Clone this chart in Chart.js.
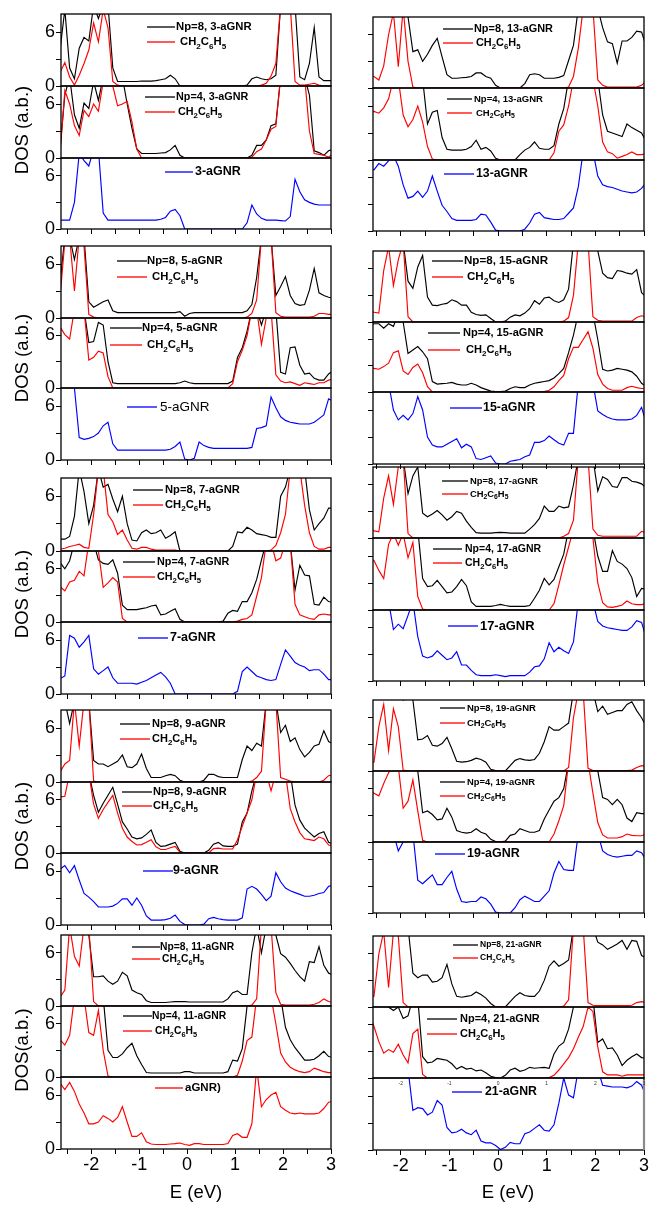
<!DOCTYPE html>
<html><head><meta charset="utf-8">
<script src="https://cdn.jsdelivr.net/npm/chart.js@4.4.1/dist/chart.umd.min.js"></script>
<style>
html,body{margin:0;padding:0;background:#fff;}
body{width:650px;height:1205px;position:relative;overflow:hidden;font-family:"Liberation Sans",Arial,sans-serif;}
canvas{position:absolute;}
.ylab{position:absolute;font-size:18.5px;white-space:nowrap;transform:translate(-50%,-50%) rotate(-90deg);color:#000;}
.xlab{position:absolute;font-size:18.5px;white-space:nowrap;transform:translate(-50%,-50%);color:#000;}
</style></head><body>
<script>
// ---------- DATA ----------
const energy=[-2.65,-2.55,-2.45,-2.35,-2.25,-2.15,-2.05,-1.95,-1.85,-1.75,-1.65,-1.55,-1.45,-1.35,-1.25,-1.15,-1.05,-0.95,-0.85,-0.75,-0.65,-0.55,-0.45,-0.35,-0.25,-0.15,-0.05,0.05,0.15,0.25,0.35,0.45,0.55,0.65,0.75,0.85,0.95,1.05,1.15,1.25,1.35,1.45,1.55,1.65,1.75,1.85,1.95,2.05,2.15,2.25,2.35,2.45,2.55,2.65,2.75,2.85,2.95,3.05];
const xTickValues=[-2.5,-2,-1.5,-1,-0.5,0,0.5,1,1.5,2,2.5,3];
const xTickLabels=['-2','-1','0','1','2','3'];
const yTickValues=[0,3,6];
const yTickLabels=['0','6'];

// left column
const np8_3=[4,8.5,2,0.8,4.2,5.4,5,9,7.5,9, 9,2,0.5,0.5,0.5,0.5,0.5,0.55,0.55,0.55, 0.6,0.7,0.8,1.2,0.8,0,0,0,0,0, 0,0,0,0,0,0,0,0,0,0.1, 0.8,1,0.8,0.7,0.8,1.2,9,9,9,9, 1,0.7,2.5,6.5,1,0.6,0.6,0.6];
const ch_3a=[1.5,2.6,1,0.1,1.2,2.5,4,7,4.9,8.5, 6.5,0.5,0.1,0,0,0,0,0,0,0, 0,0,0,0,0,0,0,0,0,0, 0,0,0,0,0,0,0,0,0,0, 0,0,0.1,0.3,1.1,2.5,9,9,9,0.5, 0.1,0.1,0.2,0.3,0.1,0,0,0];
const np4_3=[1,7,9,4.8,3.3,6.1,5.5,8.5,6.4,9, 9,9,9,9,6,3.3,1,0.5,0.5,0.5, 0.5,0.55,0.6,0.9,1.4,0.3,0,0,0,0, 0,0,0,0,0,0,0,0,0,0, 0.3,1.4,1.4,2,3.6,3.8,9,9,9,9, 9,9,7,0.8,0.6,0.3,0.8,1];
const ch_3b=[0.5,7.5,6,3.6,2.5,5.3,4.6,6,5.2,8.5, 9,8,5.8,6,6.3,4,1,0,0,0, 0,0,0,0,0,0,0,0,0,0, 0,0,0,0,0,0,0,0,0,0, 0.1,0.7,1,2,3.2,3.5,9,9,9,9, 9,9,3,0.5,0.4,0.3,0.1,0.5];
const g3=[1,1,1,3,8.5,7.7,7.1,9,9,1.8, 1,1,1,1,1,1,1,1,1,1, 1,1.1,1.3,2,2.2,1.5,0,0,0,0, 0,0,0,0,0,0,0,0,0,0.7, 2.7,1.7,1.2,1,1,1,0.95,0.9,1.4,5.6, 4.2,3.3,3,2.8,2.7,2.7,2.7,2.7];
const np8_5=[4,9,9,6.5,9,9,1.8,1.2,1.5,1.8, 2,0.8,0.6,0.6,0.6,0.6,0.6,0.6,0.6,0.6, 0.6,0.6,0.6,0.6,0.6,0.7,0.2,0.5,0.6,0.6, 0.6,0.6,0.6,0.6,0.6,0.6,0.6,0.6,0.6,0.8, 1.5,4.5,9,9,9,2.5,3.5,4.6,2.5,1.6, 1.4,1.5,3.1,5.5,2.8,2.5,2.3,2.2];
const ch_5a=[2.3,8.5,9,3,9,8,0.4,0.1,0,0, 0,0,0,0,0,0,0,0,0,0, 0,0,0,0,0,0,0,0,0,0, 0,0,0,0,0,0,0,0,0,0.1, 0.5,2,9,9,9,0.6,0.2,0.1,0.1,0.1, 0.1,0.1,0.1,0.2,0.5,0.5,0.4,0.4];
const np4_5=[9,9,9,9,9,9,5.2,5.3,7.5,7.2, 3,0.6,0.5,0.5,0.5,0.5,0.5,0.5,0.5,0.5, 0.5,0.5,0.5,0.5,0.5,0.6,0.8,0.6,0.5,0.5, 0.5,0.5,0.5,0.5,0.5,0.5,0.8,3.5,4.6,6.5, 9,9,7.2,9,9,9,1.8,1.6,4.6,4.7, 2.6,1.6,1.7,1.1,0.9,0.9,1.6,2];
const ch_5b=[7,6.1,5.6,9,9,9,3.2,3.5,4.2,4, 1.3,0,0,0,0,0,0,0,0,0, 0,0,0,0,0,0,0,0,0,0, 0,0,0,0,0,0,0.5,3,4.3,6, 9,9,5,8,9,1.5,0.8,0.6,0.7,0.5, 0.3,0.6,0.5,0.4,0.6,0.6,0.9,1];
const g5=[9,9,9,8,2.5,2.3,2.4,2.6,3,3.8, 4.2,1.8,1.1,1.1,1.1,1.1,1.1,1.1,1.1,1.1, 1.1,1.1,1.1,1.2,1.5,2,0.1,0,0.2,2, 1.6,1.4,1.3,1.3,1.3,1.3,1.3,1.3,1.3,1.3, 1.4,3.5,3.6,3.8,7,5.8,4.8,4.4,4.2,4.1, 4,4,4,4.2,4.6,5,6.8,6.5];
const np8_7=[1.3,1.3,1.6,3.8,9,6.5,3,5,9,7, 7.3,5.7,4.3,6,3,1.2,1.1,2,2.3,1.9, 2,2.3,1.4,1.7,2.1,0,0,0,0,0, 0,0,0,0,0,0,0.5,2.1,2,2.6, 2.3,1.9,1.8,1.7,1.5,1.5,6,7,9,9, 9,9,4.5,2.3,3,3.6,4.7,4.7];
const ch_7a=[0.2,0.3,0.5,0.6,0.75,0.4,0.3,4,9,9, 4,3.2,1.8,2.3,1.2,0.3,0.2,0.4,0.4,0.2, 0.1,0.1,0.1,0.1,0.1,0,0,0,0,0, 0,0,0,0,0,0,0,0,0,0, 0,0,0,0,0.1,0.6,2,4,9,9, 9,5,2,0.5,0.2,0.2,0.4,0.4];
const np4_7=[6.7,6,6.9,9,9,9,9,9,7,6.6, 6.5,7,5.5,1.9,1.4,1.4,1.4,1.5,1.6,1.8, 1.9,0.8,0.9,1.2,1.5,0.3,0,0,0,0, 0,0,0,0,0.1,1,1.3,1.2,2.3,2.3, 3.3,4.8,7,9,9,9,9,9,9,3.6, 6.4,5.3,5.2,2,1.9,2.8,2.3,2.2];
const ch_7b=[4,3.5,4.5,4.7,5.7,5.2,9,9,8,3.9, 4.4,5,4.5,0.4,0,0,0,0,0,0, 0,0,0,0,0,0,0,0,0,0, 0,0,0,0,0,0,0,0.1,0.3,0.4, 0.8,2.9,5,9,9,6.9,7.2,9,9,2, 0.8,0.6,0.4,0.3,0.8,0.9,0.8,0.8];
const g7=[1.7,2,6.5,6.2,5.2,5.8,6.5,2.8,2.2,2.6, 3,1.8,1.2,1.2,1.2,1.2,1.1,1.3,1.5,1.8, 2.1,2.4,1.9,1.2,0,0,0,0,0,0, 0,0,0,0,0,0,0,0.3,2.5,3, 2.5,2,1.8,1.6,1.5,1.6,3.3,4.9,4.2,3.5, 3.2,3,2.6,2.7,2.7,2.2,1.6,1.6];
const np8_9=[9,9,6.5,9,9,9,9,2.4,2,2, 1.7,2,2.3,3,1.7,1.6,2,3.1,1.5,0.5, 0.5,0.5,0.7,0.85,0.7,0.2,0,0,0,0, 0.2,0.85,0.85,0.6,0.5,0.5,0.5,0.5,2.5,4, 3.5,4.3,4,9,9,9,5.5,6.3,4.5,4.9, 3.6,2.8,3.3,4,4.2,5.7,4.5,4.2];
const ch_9a=[1.1,2,2.4,9,4,9,9,0.1,0,0, 0,0,0,0,0,0,0,0,0,0, 0,0,0,0,0,0,0,0,0,0, 0,0,0,0,0,0,0,0,0,0, 0.1,0.5,1.2,9,9,9,0.5,0.3,0.1,0, 0,0,0,0,0,0.2,0.7,0.8];
const np8_9b=[9,9,9,9,9,9,9,6.5,4.6,5.6, 6.5,7.4,5.5,3.5,2.7,1.8,1.6,1.7,2.1,2.6, 1.2,0.75,0.8,1,1.2,0.2,0,0,0,0, 0,0.3,1,1.2,0.8,0.75,0.75,1,3.5,4.5, 7,9,9,9,9,9,9,9,9,5.4, 3.7,2.8,2.3,1.8,2.2,2.4,1.2,1];
const ch_9b=[6.3,6.4,9,9,9,9,9,5.5,3.9,4.9, 5.7,6.5,4.5,2.8,1.8,1.3,0.9,0.95,1.2,1.5, 0.7,0.4,0.4,0.6,0.75,0.1,0,0,0,0, 0,0,0.5,0.55,0.45,0.45,0.45,1.5,3,4.5, 6,9,9,9,7,9,9,9,5,3.5, 2.3,1.6,1.5,1.4,1.8,1.6,0.9,0.8];
const g9=[6.2,6.6,5.8,6.6,5,3.5,3.1,2.6,2,2, 2,2.1,2.4,2.9,2.9,2.2,3,2.2,1,0.55, 0.55,0.55,0.6,0.75,1.1,0.4,0.05,0,0,0, 0.1,0.7,0.85,0.7,0.6,0.55,0.55,0.55,0.8,4, 4.3,4,3.4,2.7,3.2,5.8,4.8,4.1,3.8,3.6, 3.4,3.2,3.2,3.3,3.5,3.6,4.3,4.4];
const np8_11=[9,9,9,9,9,9,8,3.3,3.3,3.4, 2.8,2.45,2.8,3.8,3.4,1.8,1.5,1.3,0.6,0.4, 0.4,0.4,0.4,0.45,0.5,0.5,0.5,0.45,0.45,0.45, 0.45,0.45,0.45,0.45,0.45,0.8,1.5,1.7,1.3,1.3, 6,9,6,9,9,8,5.9,5.5,4.8,4, 3.3,2.8,5,4.9,6.7,4.6,3.7,3.5];
const ch_11a=[1,1.8,9,5.6,4.5,9,9,0.5,0,0, 0,0,0,0,0,0,0,0,0,0, 0,0,0,0,0,0,0,0,0,0, 0,0,0,0,0,0,0,0,0,0, 0.1,0.8,9,9,9,1.5,0.2,0.1,0.1,0.1, 0.1,0.1,0.1,0.2,0.4,0.8,0.5,0.4];
const np4_11=[9,9,9,9,9,9,9,9,9,9, 3,2.2,2.2,2.6,3.3,3.8,2.4,1.4,0.5,0.45, 0.45,0.45,0.45,0.45,0.45,0.45,0.6,0.6,0.45,0.45, 0.45,0.45,0.45,0.45,0.45,0.6,1.9,1.8,3.2,8, 9,9,9,9,9,9,9,5.6,4.2,3.3, 2.6,1.9,1.9,2,2.4,2.9,2.3,2.2];
const ch_11b=[4.2,3.6,4.7,9,9,9,5,4.7,7.5,3, 0.1,0,0,0,0,0,0,0,0,0, 0,0,0,0,0,0,0,0,0,0, 0,0,0,0,0,0,0,0.2,1.8,4.1, 4.5,9,9,9,9,6,2.7,1.7,1.1,0.8, 0.6,0.5,0.6,1,0.8,0.6,0.5,0.5];
const agnr=[7.3,6.6,7.4,6.4,5,4,2.8,2.8,3,3.7, 3.4,3,3.5,4.7,3,1.4,1.4,1.8,0.8,0.55, 0.5,0.5,0.5,0.55,0.6,0.67,0.5,0.4,0.6,0.6, 0.5,0.5,0.5,0.5,0.5,0.6,1.5,1.7,1.3,1.3, 2.8,9,4.7,5.5,6,6.3,4.7,4.3,4,3.9, 4,3.9,3.9,3.9,4,4.5,5.2,5.3];
// right column
const np8_13=[9,9,9,9,9,9,9,9,8,4.1, 4.3,3,3.8,4.8,5.6,3.5,1.5,1.1,1.1,1.15, 1.2,1.3,1.7,1.7,1.3,1.1,0.3,0,0,0, 0,0,0.5,1.5,1.6,1.5,1.1,1.1,1.1,1.2, 1.4,3.1,4.8,9,9,9,9,9,6.8,5.2, 5,2.8,5.3,5.3,5.7,6.4,6.3,4.6];
const ch_13a=[1.3,1.3,0.9,2.5,6,8.5,2.4,9,3,0.1, 0,0,0,0,0,0,0,0,0,0, 0,0,0,0,0,0,0,0,0,0, 0,0,0,0,0,0,0,0,0,0, 0,0.1,1.3,4.5,9,9,9,0.9,0.3,0.1, 0.1,0.1,0.1,0.1,0.1,0.1,0.3,0.8];
const np4_13=[9,9,9,9,9,9,9,9,9,9, 9,9,4,5.3,5.5,2.5,1.2,1.1,1.1,1.1, 1.2,1.5,2.2,1.2,1.4,1,0.2,0,0,0, 0,0.6,1.1,1.4,2,1.3,1.2,1.2,1.6,4, 5.7,9,9,9,9,9,9,9,5,3.2, 3,2.8,2.6,4,3.6,3.3,3,2];
const ch_13b=[5.3,5.4,5.2,5.8,6.8,9,9,5,3.7,4.5, 6,4.2,1.5,0.1,0,0,0,0,0,0, 0,0,0,0,0,0,0,0,0,0, 0,0,0,0,0,0,0,0,0.8,3.2, 3.9,6,9,9,9,9,9,6,2,0.9, 0.7,0.2,0.4,0.6,0.9,0.6,0.6,0.7];
const g13=[7,6.9,7.6,7.3,7.9,8.5,7.3,5.2,3.7,3.9, 4.5,3.8,4.5,6.2,4.5,2.9,2.2,1.4,1.2,1.2, 1.2,1.2,1.3,1.9,1.8,1,0.1,0,0,0, 0,0,0.2,0.9,1.9,2.1,1.5,1.4,1.3,1.3, 1.4,2,2.6,5,9,9,9,6.2,5.2,5, 4.9,4.7,4.5,4.4,4.3,4.4,4.8,5.5];
const np8_15=[9,9,9,9,9,9,9,9,4.6,3.8, 6.2,7.5,2.8,1.9,1.85,2,2.1,2.5,2.3,1.9, 1.9,1.1,0.85,0.75,0.8,0.4,0,0,0.1,0.55, 0.8,0.7,1,1.5,2.4,2,2.7,2.8,2.4,2.2, 2.5,3.7,9,9,9,9,9,8,5.5,5, 4.9,5.8,5.7,5.5,5.4,5.9,3.3,2.8];
const ch_15a=[1.2,1.1,1,5.8,8.5,4.1,7,9,0.6,0, 0,0,0,0,0,0,0,0,0,0, 0,0,0,0,0,0,0,0,0,0, 0,0,0,0,0,0,0,0,0,0, 0.1,0.5,3,9,9,9,0.6,0.2,0.1,0.1, 0.1,0.1,0.1,0.1,0.1,0.5,0.7,0.6];
const np4_15=[7.5,7.8,7.8,7.3,7.8,7.5,9,8,4.4,4.8, 5.2,4.6,3.8,1.2,0.9,0.95,1,1.1,0.9,0.8, 0.8,1,0.8,0.5,0.3,0.1,0.05,0.05,0.1,0.4, 0.6,0.5,0.5,0.8,1,1.1,1.2,1.3,1.6,2.1, 2.7,4.5,6.5,9,9,9,9,6,2.6,2.4, 2.5,2.7,2.6,2.5,2.3,1.8,1,0.6];
const ch_15b=[2.9,2.7,2.6,2.9,3.3,4.5,4.7,2.4,2,2.8, 3.2,2.2,0.6,0,0,0,0,0,0,0, 0,0,0,0,0,0,0,0,0,0, 0,0,0,0,0,0,0.05,0.2,0.6,1.3, 1.9,3.8,5.1,5.1,6,6.9,5,2,0.9,0.4, 0.2,0.2,0.2,0.5,0.65,0.5,0.4,0.4];
const g15=[9,9,9,9,9,6,4.9,5.4,4.9,5.6, 7.5,6,3,2.1,1.9,1.9,2.2,2.5,2.8,1.8, 2.2,1.9,0.6,0.5,0.7,0.9,0.1,0,0,0.3, 0.4,0.5,0.8,1,2.4,2.4,2.6,3.1,2.7,2.3, 2.1,3.4,3.4,9,9,9,9,5.9,5.5,5.2, 5,4.9,4.9,4.9,5,5.4,6.3,4.5];
const np8_17=[9,9,9,9,9,9,9,9,5,7, 8,2.8,2.4,2.7,3.1,2.6,2,2.4,3,2.8, 1.9,1.2,0.6,0.55,0.55,0.55,0.6,0.63,0.6,0.55, 0.55,0.55,0.55,1,1.5,2.2,3.6,3,3,3.6, 3.4,3.5,6,9,9,9,9,5.3,6.9,6.6, 5.8,5.7,6.8,6.8,6.4,6.3,6.1,5.6];
const ch_17a=[0.9,0.8,0.7,4.5,7,3.8,8,9,0.5,0, 0,0,0,0,0,0,0,0,0,0, 0,0,0,0,0,0,0,0,0,0, 0,0,0,0,0,0,0,0,0,0, 0.2,0.5,2,9,9,9,1,0.3,0.2,0.2, 0.2,0.2,0.2,0.2,0.2,0.2,0.75,0.6];
const np4_17=[9,9,9,9,9,9,9,9,9,9, 9,3.5,2.6,2.7,3.3,2.6,1.9,2,2.6,3.4, 2.7,0.9,0.4,0.4,0.4,0.4,0.5,0.63,0.5,0.4, 0.4,0.4,0.4,0.5,1.3,2.2,3.5,2.8,3.4,4.8, 6.2,9,9,9,9,9,9,6,4.3,4.3, 6.6,5.4,5.1,4.6,3.6,1.5,2.4,2.3];
const ch_17b=[5.7,5.5,4.4,3.5,7.3,8.5,7.2,8.5,5.8,7.5, 1.5,0.1,0,0,0,0,0,0,0,0, 0,0,0,0,0,0,0,0,0,0, 0,0,0,0,0,0,0,0,0.7,2.8, 5,7,9,9,9,9,8,3,0.8,0.35, 0.3,0.4,0.55,1,0.7,0.6,0.6,0.7];
const g17=[9,9,9,9,9,5.8,6.4,5.9,7.4,9, 5,2.8,2.6,2.8,3.4,2.9,2.4,2.6,3.3,1.8, 1.8,1.2,0.7,0.6,0.6,0.6,0.7,0.6,0.5,0.6, 0.6,0.6,0.6,1,1.6,1.7,2.5,4.3,3.3,3.8, 3.4,3.1,4.4,9,9,9,9,6.7,6.2,6, 5.9,5.8,5.7,5.7,6.1,6.8,6.6,4.8];
const np8_19=[9,9,9,9,9,9,9,8,9,8, 3.5,3.6,4,2.9,2.8,3.1,3.8,2.5,1.1,1, 1.05,1.2,1.45,1.3,1,0.2,0.05,0,0,0.6, 1.2,1.4,1.25,1.2,1.3,2,3.3,5,4.6,4.6, 5,5.4,9,9,9,9,9,6.7,7.3,6.4, 6.6,6.8,6.8,7.5,7.8,6.8,6,5];
const ch_19a=[1,1,5,7.5,2.3,7,5,0.1,0,0, 0,0,0,0,0,0,0,0,0,0, 0,0,0,0,0,0,0,0,0,0, 0,0,0,0,0,0,0,0,0,0, 0,0.4,6,9,9,0.3,0.05,0.05,0.05,0.05, 0.05,0.05,0.05,0.05,0.1,0.4,0.6,0.5];
const np4_19=[9,9,9,9,9,9,9,9,9,9, 8,3.3,3.5,3.1,2.5,2.6,3.8,2.8,1.3,1.1, 1,1.1,1.5,1.1,0.9,0.3,0.05,0,0.1,0.75, 0.9,1.5,1.3,1.1,1.1,1.3,2.6,3.6,4.6,5, 6,9,9,9,9,9,9,8,5,4.8, 4.2,4.8,4.2,2.7,2.3,3.3,3.2,3.2];
const ch_19b=[5.9,5.5,5.2,6.6,7.8,8.5,8.5,3.8,4.6,7, 3.5,0.2,0,0,0,0,0,0,0,0, 0,0,0,0,0,0,0,0,0,0, 0,0,0,0,0,0,0,0,0.9,2.4, 4.1,9,9,9,9,9,5.5,2.2,0.8,0.45, 0.45,0.45,0.6,0.9,0.75,0.7,0.7,0.9];
const g19=[9,9,9,9,9,9,7,8,9,9, 3.7,3.3,3.8,4.3,3.2,3.2,4,4.7,2.7,1.3, 1.2,1.3,1.3,1.8,1.6,1,0.1,0,0,0, 0.6,1.5,1.9,1.6,1.3,1.3,1.9,2.5,4.5,5.8, 4.9,4.8,4.8,9,9,9,9,9,7,6.6, 6.4,6.3,6.4,6.5,6.5,7,6.8,5.9];
const np8_21=[9,9,9,9,9,9,9,9,9,3.8, 3.3,3.6,3.6,2.8,2.9,3.3,4.8,2.6,1.2,1.1, 1.2,1.3,1.7,1.4,1,0.4,0,0,0,0.6, 1.2,1.6,1.3,1.2,1.2,1.8,3,4.6,5.2,4.6, 4.9,5.3,9,9,9,9,9,7.3,7,6.5, 6.8,7.1,7.5,6.5,7.5,7.4,5.8,5.5];
const ch_21a=[1.1,1.2,6,8.5,2.2,8.5,8,0.5,0,0, 0,0,0,0,0,0,0,0,0,0, 0,0,0,0,0,0,0,0,0,0, 0,0,0,0,0,0,0,0,0,0, 0.1,0.8,9,9,9,0.5,0.2,0.15,0.15,0.15, 0.15,0.15,0.15,0.15,0.2,0.5,0.6,0.5];
const np4_21=[9,9,9,9,8,7.6,8,6.7,7,9, 9,2.4,1.7,1.8,2.2,2.1,2,1.6,1,1.3, 1,1.1,0.8,0.9,0.6,0.2,0.05,0,0.3,0.9, 1.1,0.75,0.9,1.2,1.1,1.15,1.2,1.1,2.7,3.6, 4,5.5,8,9,9,9,9,4,4.4,3.3, 3.4,2.6,1.4,2,2.4,2.7,2.3,2.2];
const ch_21b=[7.5,5.8,4.1,2.8,3.2,2.9,3.8,2.6,1.7,5, 5.5,0.4,0,0,0,0,0,0,0,0, 0,0,0,0,0,0,0,0,0,0, 0,0,0,0,0,0,0,0.05,0.3,0.9, 1.6,2.3,3.3,4.6,5.8,8,7.5,3.5,0.7,0.35, 0.35,0.35,0.2,0.35,0.35,0.35,0.35,0.35];
const g21=[9,9,9,9,9,9,9,9,9,4.4, 4.7,4.6,3.9,4.2,5.5,5,2.5,1.9,2,2.3, 1.9,1.7,2.2,1,0.8,0.8,0.5,0.05,0.3,0.85, 0.7,0.7,1.8,2,2.4,2.8,2.2,2.1,2.8,5.2, 8,6.1,5.8,9,9,9,9,9,7.2,7.1, 7,7,7,6.9,7.1,7.6,7.2,5.9];

// ---------- LAYOUT / STYLE ----------
const K='#000000', R='#ff0000', B='#0000ff';
const CH='CH_2C_6H_5';
const COLS=[{left:61,width:270,xmin:-2.63,labels:true},{left:373,width:271,xmin:-2.57,labels:false}];
// lg rows: [lineStart, lineEnd, textX, y] relative to plot area
const panels=[
 {c:0,top:14,h:72,s:[[np8_3,K,'Np=8, 3-aGNR'],[ch_3a,R,CH]],fs:11.3,lg:[[86,114,115,13],[86,114,119,28]]},
 {c:0,top:86,h:72,s:[[np4_3,K,'Np=4, 3-aGNR'],[ch_3b,R,CH]],fs:10.8,lg:[[84,114,115,11],[84,114,117,26]]},
 {c:0,top:158,h:71,bot:1,s:[[g3,B,'3-aGNR']],fs:12.5,lg:[[104,132,134,14]]},
 {c:0,top:246,h:72,s:[[np8_5,K,'Np=8, 5-aGNR'],[ch_5a,R,CH]],fs:11.3,lg:[[56,86,86,15],[56,86,91,31]]},
 {c:0,top:318,h:70,s:[[np4_5,K,'Np=4, 5-aGNR'],[ch_5b,R,CH]],fs:11.3,lg:[[49,81,81,10],[49,81,86,27]]},
 {c:0,top:388,h:72,bot:1,s:[[g5,B,'5-aGNR']],fs:13.5,normal:1,lg:[[66,96,99,19]]},
 {c:0,top:478,h:73,s:[[np8_7,K,'Np=8, 7-aGNR'],[ch_7a,R,CH]],fs:11.2,lg:[[72,102,104,12],[72,102,104,27]]},
 {c:0,top:551,h:71,s:[[np4_7,K,'Np=4, 7-aGNR'],[ch_7b,R,CH]],fs:10.8,lg:[[62,94,96,11],[62,94,96,26]]},
 {c:0,top:622,h:72,bot:1,s:[[g7,B,'7-aGNR']],fs:12.5,lg:[[77,107,109,16]]},
 {c:0,top:710,h:72,s:[[np8_9,K,'Np=8, 9-aGNR'],[ch_9a,R,CH]],fs:11,lg:[[59,89,91,14],[59,89,91,29]]},
 {c:0,top:782,h:71,s:[[np8_9b,K,'Np=8, 9-aGNR'],[ch_9b,R,CH]],fs:11,lg:[[61,91,92,10],[61,91,92,24]]},
 {c:0,top:853,h:72,bot:1,s:[[g9,B,'9-aGNR']],fs:12.5,lg:[[82,112,112,18]]},
 {c:0,top:935,h:71,s:[[np8_11,K,'Np=8, 11-aGNR'],[ch_11a,R,CH]],fs:10.3,lg:[[71,99,99,12],[71,99,101,24]]},
 {c:0,top:1006,h:71,s:[[np4_11,K,'Np=4, 11-aGNR'],[ch_11b,R,CH]],fs:10.3,lg:[[62,91,91,10],[62,91,94,25]]},
 {c:0,top:1077,h:72,bot:2,s:[[agnr,R,'aGNR)']],fs:11.5,lg:[[94,122,124,11]]},

 {c:1,top:17,h:71,s:[[np8_13,K,'Np=8, 13-aGNR'],[ch_13a,R,CH]],fs:10.9,lg:[[70,100,101,12],[70,100,103,26]]},
 {c:1,top:88,h:72,s:[[np4_13,K,'Np=4, 13-aGNR'],[ch_13b,R,CH]],fs:9.5,lg:[[74,99,101,11],[74,99,103,25]]},
 {c:1,top:160,h:71,bot:1,s:[[g13,B,'13-aGNR']],fs:12.3,lg:[[71,101,103,14]]},
 {c:1,top:251,h:71,s:[[np8_15,K,'Np=8, 15-aGNR'],[ch_15a,R,CH]],fs:11.6,lg:[[59,90,91,10],[59,90,94,26]]},
 {c:1,top:322,h:70,s:[[np4_15,K,'Np=4, 15-aGNR'],[ch_15b,R,CH]],fs:11.1,lg:[[55,87,90,11],[55,87,93,28]]},
 {c:1,top:392,h:72,bot:1,s:[[g15,B,'15-aGNR']],fs:12.4,lg:[[77,109,110,16]]},
 {c:1,top:467,h:71,s:[[np8_17,K,'Np=8, 17-aGNR'],[ch_17a,R,CH]],fs:9.4,lg:[[69,95,97,14],[69,95,97,27]]},
 {c:1,top:538,h:72,s:[[np4_17,K,'Np=4, 17-aGNR'],[ch_17b,R,CH]],fs:10.5,lg:[[60,89,92,11],[60,89,92,25]]},
 {c:1,top:610,h:71,bot:1,s:[[g17,B,'17-aGNR']],fs:12.9,lg:[[75,105,107,16]]},
 {c:1,top:700,h:71,s:[[np8_19,K,'Np=8, 19-aGNR'],[ch_19a,R,CH]],fs:9.5,lg:[[67,92,94,8],[67,92,94,23]]},
 {c:1,top:771,h:71,s:[[np4_19,K,'Np=4, 19-aGNR'],[ch_19b,R,CH]],fs:9.4,lg:[[67,92,94,11],[67,92,94,25]]},
 {c:1,top:842,h:71,bot:1,s:[[g19,B,'19-aGNR']],fs:12.5,lg:[[62,92,94,12]]},
 {c:1,top:936,h:71,s:[[np8_21,K,'Np=8, 21-aGNR'],[ch_21a,R,CH]],fs:8.5,lg:[[80,105,107,9],[80,105,107,22]]},
 {c:1,top:1007,h:71,s:[[np4_21,K,'Np=4, 21-aGNR'],[ch_21b,R,CH]],fs:11,lg:[[54,84,87,12],[54,84,87,27]]},
 {c:1,top:1078,h:72,bot:2,tiny:1,grayRight:1,s:[[g21,B,'21-aGNR']],fs:12.3,lg:[[79,109,112,14]]}
];

const FONT='"Liberation Sans", Arial, sans-serif';
function drawRich(ctx,str,x,y,size,bold,color){
  const parts=[];let i=0;
  while(i<str.length){
    if(str[i]==='_'){parts.push({t:str[i+1],sub:true});i+=2;}
    else{let j=i;while(j<str.length&&str[j]!=='_')j++;parts.push({t:str.slice(i,j),sub:false});i=j;}
  }
  ctx.fillStyle=color;ctx.textAlign='left';ctx.textBaseline='middle';
  let cx=x;
  for(const p of parts){
    const sz=p.sub?size*0.72:size;
    ctx.font=(bold?'bold ':'')+sz.toFixed(1)+'px '+FONT;
    ctx.fillText(p.t,cx,p.sub?y+size*0.38:y);
    cx+=ctx.measureText(p.t).width;
  }
}

const panelPlugin={
  id:'panelDeco',
  afterDraw(chart,args,opts){
    const ctx=chart.ctx,a=chart.chartArea,p=opts.panel;
    ctx.save();
    ctx.strokeStyle='#000';ctx.lineWidth=1.3;
    ctx.strokeRect(a.left,a.top,a.right-a.left,a.bottom-a.top);
    if(p.grayRight){
      ctx.strokeStyle='#8a8a8a';ctx.lineWidth=2.2;
      ctx.beginPath();ctx.moveTo(a.right,a.top+2);ctx.lineTo(a.right,a.bottom);ctx.stroke();
    }
    p.lg.forEach((row,k)=>{
      const ser=p.s[k];
      ctx.strokeStyle=ser[1];ctx.lineWidth=1.3;
      ctx.beginPath();ctx.moveTo(a.left+row[0],a.top+row[3]);ctx.lineTo(a.left+row[1],a.top+row[3]);ctx.stroke();
      drawRich(ctx,ser[2],a.left+row[2],a.top+row[3],p.fs,!p.normal,'#000');
    });
    if(p.tiny){
      const xs=chart.scales.x;
      ctx.fillStyle='#333';ctx.font='5px '+FONT;ctx.textAlign='center';ctx.textBaseline='top';
      xTickLabels.forEach(t=>{ctx.fillText(t,xs.getPixelForValue(Number(t)),a.top+3);});
    }
    ctx.restore();
  }
};

const padL=58,padR=10,padT=10;
panels.forEach(p=>{
  const col=COLS[p.c];
  const padB=p.bot===2?34:10;
  const cv=document.createElement('canvas');
  const W=col.width+padL+padR,H=p.h+padT+padB;
  cv.width=W;cv.height=H;
  cv.style.left=(col.left-padL)+'px';cv.style.top=(p.top-padT)+'px';
  cv.style.width=W+'px';cv.style.height=H+'px';
  document.body.appendChild(cv);
  new Chart(cv.getContext('2d'),{
    type:'line',
    data:{datasets:p.s.map(s=>({
      data:energy.map((e,i)=>({x:e,y:s[0][i]})),
      borderColor:s[1],borderWidth:1.15,pointRadius:0,tension:0,fill:false
    })).reverse()},
    options:{
      responsive:false,animation:false,events:[],devicePixelRatio:1,
      layout:{padding:{left:0,right:padR,top:padT,bottom:0}},
      plugins:{legend:{display:false},tooltip:{enabled:false},panelDeco:{panel:p}},
      scales:{
        x:{type:'linear',min:col.xmin,max:3,
          afterBuildTicks:s=>{s.ticks=xTickValues.map(v=>({value:v}));},
          ticks:{display:p.bot===2,autoSkip:false,maxRotation:0,padding:0,color:'#000',
            font:{family:FONT,size:18},
            callback:v=>xTickLabels.includes(String(v))?String(v):''},
          grid:{drawOnChartArea:false,drawTicks:!!p.bot,tickLength:5,color:'#000',lineWidth:1},
          border:{display:false},
          afterFit:s=>{s.height=padB;s.paddingLeft=0;s.paddingRight=0;}
        },
        y:{type:'linear',min:0,max:8,
          afterBuildTicks:s=>{s.ticks=yTickValues.map(v=>({value:v}));},
          ticks:{display:col.labels,padding:1,color:'#000',font:{family:FONT,size:18},
            callback:v=>yTickLabels.includes(String(v))?String(v):''},
          grid:{drawOnChartArea:false,drawTicks:true,tickLength:5,color:'#000',lineWidth:1},
          border:{display:false},
          afterFit:s=>{s.width=padL;s.paddingTop=0;s.paddingBottom=0;}
        }
      }
    },
    plugins:[panelPlugin]
  });
});

// axis titles (real text)
const ylabs=[[130,'DOS (a.b.)'],[358,'DOS (a.b.)'],[594,'DOS (a.b.)'],[826,'DOS (a.b.)'],[1050,'DOS(a.b.)']];
ylabs.forEach(([y,t])=>{const d=document.createElement('div');d.className='ylab';d.textContent=t;d.style.left='22px';d.style.top=y+'px';document.body.appendChild(d);});
[[196,'E (eV)'],[508,'E (eV)']].forEach(([x,t])=>{const d=document.createElement('div');d.className='xlab';d.textContent=t;d.style.left=x+'px';d.style.top='1192px';document.body.appendChild(d);});

// sanity check of array lengths
const bad=panels.flatMap(p=>p.s.filter(s=>s[0].length!==energy.length).map(s=>s[2]+':'+s[0].length));
if(bad.length) setTimeout(()=>{throw new Error('length mismatch '+bad.join(','));},0);
</script>
</body></html>
